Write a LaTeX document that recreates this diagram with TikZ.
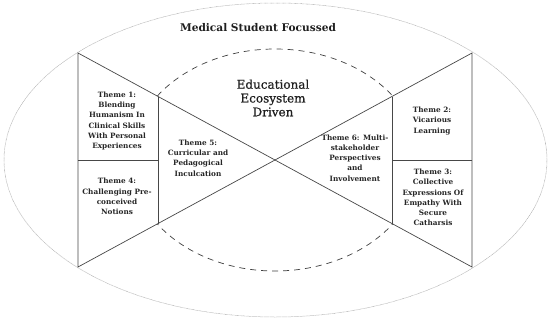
\documentclass[tikz,border=0pt]{standalone}
\usepackage{fontspec}
\setmainfont{DejaVu Serif}
\newfontfamily\ecofont[FakeBold=0.7]{DejaVu Serif}
\begin{document}
\begin{tikzpicture}[x=1pt,y=-1pt,
  edge/.style={draw=black!72,line width=0.7pt},
  theme/.style={align=center,inner sep=0pt,font=\bfseries\fontsize{7.3}{10.2}\selectfont,text=black!85},
  big/.style={align=center,inner sep=0pt,text=black!88}]
\useasboundingbox (0,0) rectangle (550,322);
\fill[white] (0,0) rectangle (550,322);
% outer ellipse
\draw[black!35,line width=0.5pt,dash pattern=on 0.6pt off 0.6pt] (275.5,160) ellipse [x radius=271.5, y radius=157];
% dashed ellipse
\draw[black!75,line width=0.7pt,dash pattern=on 6pt off 5pt] (275,160) ellipse [x radius=144, y radius=111];
% vertices
\coordinate (LT) at (78,53);
\coordinate (LB) at (78,267);
\coordinate (RT) at (472,53);
\coordinate (RB) at (472,267);
\coordinate (C) at (275,160);
\coordinate (LIT) at (158,96.5);
\coordinate (LIB) at (158,223.5);
\coordinate (RIT) at (392,96.5);
\coordinate (RIB) at (392,223.5);
\coordinate (LM) at (78,160);
\coordinate (LMI) at (158,160);
\coordinate (RM) at (472,160);
\coordinate (RMI) at (392,160);
\filldraw[fill=white,edge] (LT) -- (C) -- (LB) -- cycle;
\filldraw[fill=white,edge] (RT) -- (C) -- (RB) -- cycle;
\draw[edge] (LIT) -- (LIB);
\draw[edge] (RIT) -- (RIB);
\draw[edge] (LM) -- (LMI);
\draw[edge] (RM) -- (RMI);
% texts
\node[big,font=\bfseries\fontsize{10.6}{14}\selectfont] (title) at (258,28) {Medical Student Focussed};
\node[big,font=\ecofont\fontsize{12}{13.8}\selectfont] (eco) at (273,98) {Educational\\Ecosystem\\Driven};
\node[theme] (t1) at (117,121) {Theme 1:\\Blending\\Humanism In\\Clinical Skills\\With Personal\\Experiences};
\node[theme] (t4) at (117,196.5) {Theme 4:\\Challenging Pre-\\conceived\\Notions};
\node[theme] (t5) at (198,158) {Theme 5:\\Curricular and\\Pedagogical\\Inculcation};
\node[theme] (t2) at (432,121) {Theme 2:\\Vicarious\\Learning};
\node[theme] (t6) at (355,158) {Theme 6: Multi-\\stakeholder\\Perspectives\\and\\Involvement};
\node[theme] (t3) at (433,197.5) {Theme 3:\\Collective\\Expressions Of\\Empathy With\\Secure\\Catharsis};
\end{tikzpicture}
\end{document}
